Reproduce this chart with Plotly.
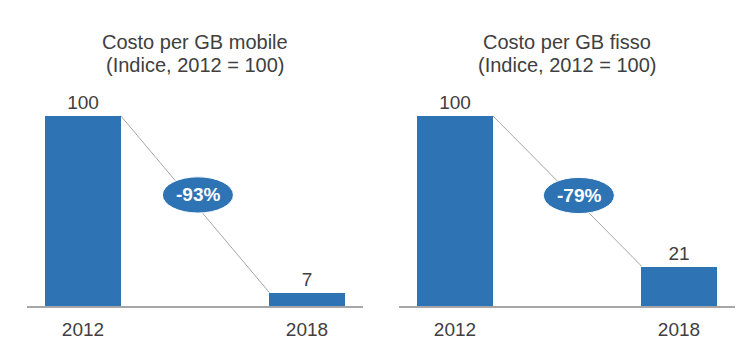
import plotly.graph_objects as go

years = ["2012", "2018"]
mobile = [100, 7]
fisso = [100, 21]
change_labels = ["-93%", "-79%"]
title_line1 = ["Costo per GB mobile", "Costo per GB fisso"]
title_line2 = ["(Indice, 2012 = 100)", "(Indice, 2012 = 100)"]

BLUE = "#2E74B5"
TXT = "#404040"
FONT = "Liberation Sans, Arial, sans-serif"
BARW = 0.335
W, H = 738, 343  # page body has an 8px margin
OFF = 8

fig = go.Figure()
series = [mobile, fisso]
axes = [("x", "y"), ("x2", "y2")]
for vals, (xa, ya) in zip(series, axes):
    fig.add_trace(go.Bar(
        x=years, y=vals, xaxis=xa, yaxis=ya, width=BARW,
        marker=dict(color=BLUE, line=dict(width=0)),
        text=[str(v) for v in vals], textposition="outside",
        textfont=dict(size=19, color=TXT, family=FONT),
        cliponaxis=False, showlegend=False, hoverinfo="skip"))

def px_x(s):
    return (s - OFF) / W

def px_y(s):
    return (H - (s - OFF)) / H

ydom = [px_y(306), px_y(115.5)]
ax_common = dict(type="category", range=[-0.25, 1.25], showline=True,
                 linecolor="#A6A6A6", linewidth=2, showgrid=False, zeroline=False,
                 ticks="outside", ticklen=5, tickcolor="rgba(0,0,0,0)",
                 tickfont=dict(size=19, color=TXT, family=FONT), fixedrange=True)
yax_common = dict(range=[0, 100], domain=ydom, visible=False, fixedrange=True)

fig.update_layout(
    width=W, height=H, margin=dict(l=0, r=0, t=0, b=0),
    paper_bgcolor="white", plot_bgcolor="white",
    font=dict(family=FONT, color=TXT),
    bargap=0,
    xaxis=dict(domain=[px_x(27), px_x(363)], anchor="y", **ax_common),
    yaxis=dict(anchor="x", **yax_common),
    xaxis2=dict(domain=[px_x(399), px_x(735)], anchor="y2", **ax_common),
    yaxis2=dict(anchor="x2", **yax_common),
)

ellipse_x = [0.513, 0.553]
ellipse_y = [58.3, 58.0]
ew, eh = 0.317, 19.0
title_cx = [194.5, 567]
for i, (vals, (xa, ya)) in enumerate(zip(series, axes)):
    fig.add_shape(type="line", xref=xa, yref=ya,
                  x0=0 + BARW / 2, y0=vals[0], x1=1 - BARW / 2, y1=vals[1],
                  line=dict(color="#A6A6A6", width=1), layer="below")
    fig.add_shape(type="circle", xref=xa, yref=ya,
                  x0=ellipse_x[i] - ew / 2, x1=ellipse_x[i] + ew / 2,
                  y0=ellipse_y[i] - eh / 2, y1=ellipse_y[i] + eh / 2,
                  fillcolor=BLUE, line=dict(color="white", width=1), layer="above")
    fig.add_annotation(x=ellipse_x[i], y=ellipse_y[i], xref=xa, yref=ya,
                       text="<b>%s</b>" % change_labels[i], showarrow=False,
                       font=dict(size=19, color="white", family=FONT))
    for txt, sy in ((title_line1[i], 42), (title_line2[i], 65)):
        fig.add_annotation(x=px_x(title_cx[i]), y=px_y(sy),
                           xref="paper", yref="paper", text=txt, showarrow=False,
                           font=dict(size=20, color=TXT, family=FONT),
                           xanchor="center", yanchor="middle")

fig.write_html("out.html")
